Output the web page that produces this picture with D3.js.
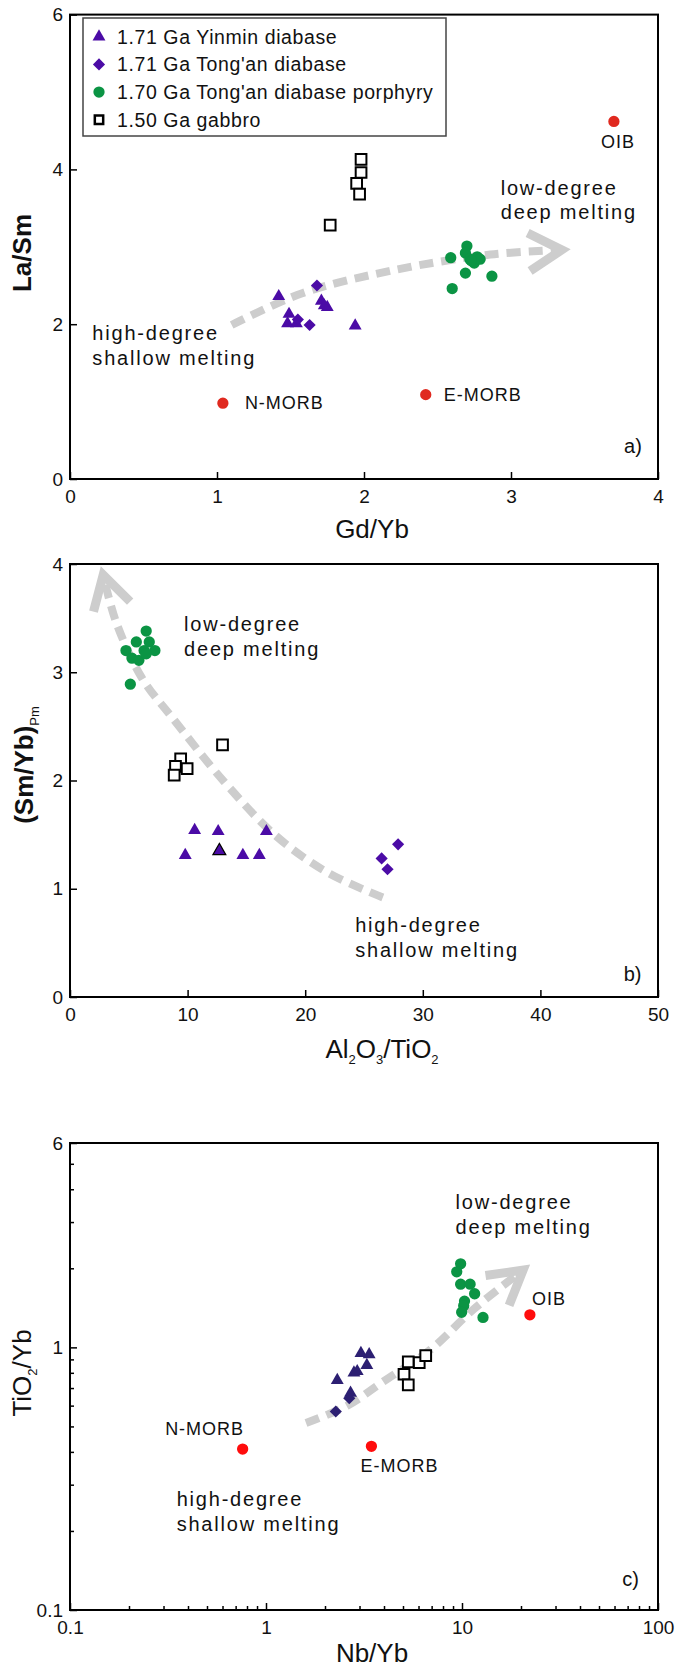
<!DOCTYPE html>
<html>
<head>
<meta charset="utf-8">
<script src="https://cdn.jsdelivr.net/npm/d3@7"></script>
<style>
body { margin: 0; background: #fff; }
</style>
</head>
<body>
<div id="chart"></div>
<script>
'use strict'

// ---- panel a : La/Sm vs Gd/Yb
var yinminA = [[1.42, 2.36], [1.49, 2.13], [1.48, 2.01], [1.54, 2.01], [1.71, 2.30], [1.75, 2.22], [1.73, 2.24], [1.94, 1.98]];
var tonganA = [[1.68, 2.50], [1.63, 1.99], [1.55, 2.06]];
var porphyryA = [[2.59, 2.86], [2.70, 3.01], [2.69, 2.92], [2.72, 2.84], [2.75, 2.79], [2.77, 2.87], [2.79, 2.84], [2.69, 2.66], [2.87, 2.62], [2.60, 2.46], [2.73, 2.82]];
var gabbroA = [[1.98, 4.13], [1.98, 3.96], [1.95, 3.82], [1.97, 3.68], [1.77, 3.28]];
var mantleA = [[1.04, 0.98], [2.42, 1.09], [3.70, 4.62]];
var trendA = [[1.10, 1.99], [1.58, 2.40], [2.18, 2.69], [2.86, 2.90], [3.345, 2.96]];

// ---- panel b : (Sm/Yb)Pm vs Al2O3/TiO2
var yinminB = [[10.6, 1.54], [12.6, 1.53], [16.7, 1.53], [9.8, 1.31], [14.7, 1.31], [16.1, 1.31]];
var yinminBEdge = [[12.7, 1.35]];
var tonganB = [[27.9, 1.41], [26.5, 1.28], [27.0, 1.18]];
var porphyryB = [[4.76, 3.20], [5.64, 3.28], [6.48, 3.38], [6.74, 3.28], [7.22, 3.20], [5.27, 3.13], [5.86, 3.11], [6.30, 3.20], [6.48, 3.17], [5.13, 2.89]];
var gabbroB = [[12.97, 2.33], [9.41, 2.20], [8.97, 2.13], [9.96, 2.11], [8.86, 2.05]];
var trendB = [[26.6, 0.92], [21.9, 1.15], [17.5, 1.49], [13.1, 1.99], [8.7, 2.58], [6.1, 2.95], [3.9, 3.47], [2.82, 3.90]];

// ---- panel c : TiO2/Yb vs Nb/Yb (log-log)
var yinminC = [[3.05, 0.95], [3.36, 0.94], [3.27, 0.855], [2.81, 0.80], [2.92, 0.81], [2.31, 0.75], [2.70, 0.67]];
var tonganC = [[2.27, 0.57], [2.66, 0.64]];
var porphyryC = [[9.84, 2.08], [9.4, 1.94], [9.84, 1.74], [11.0, 1.74], [11.6, 1.60], [10.3, 1.50], [10.2, 1.44], [9.96, 1.36], [12.8, 1.30]];
var gabbroC = [[5.32, 0.88], [6.05, 0.875], [6.53, 0.93], [5.06, 0.79], [5.32, 0.72]];
var mantleC = [[0.76, 0.41], [3.45, 0.42], [22.2, 1.33]];
var trendC = [[1.6, 0.515], [2.6, 0.60], [3.96, 0.74], [6.9, 0.98], [11.5, 1.40], [20.5, 1.97]];

var mantleNames = ['N-MORB', 'E-MORB', 'OIB'];
var legendNames = ['1.71 Ga Yinmin diabase', "1.71 Ga Tong'an diabase", "1.70 Ga Tong'an diabase porphyry", '1.50 Ga gabbro'];

var ticksA_x = [0, 1, 2, 3, 4], ticksA_y = [0, 2, 4, 6];
var ticksB_x = [0, 10, 20, 30, 40, 50], ticksB_y = [0, 1, 2, 3, 4];
var ticksC_x = [0.1, 1, 10, 100], ticksC_y = [0.1, 1, 6];
var minorC_x = [0.2, 0.3, 0.4, 0.5, 0.6, 0.7, 0.8, 0.9, 2, 3, 4, 5, 6, 7, 8, 9, 20, 30, 40, 50, 60, 70, 80, 90];
var minorC_y = [0.2, 0.3, 0.4, 0.5, 0.6, 0.7, 0.8, 0.9, 2, 3, 4, 5];

var FONT = "'Liberation Sans', Arial, sans-serif";
var PURPLE = '#4b0ba6', NAVY = '#2c1f72', GREEN = '#0b9444', GREY = '#cdcdcd';

var svg = d3.select('#chart').append('svg').attr('width', 675).attr('height', 1671);
svg.append('rect').attr('width', 675).attr('height', 1671).attr('fill', '#fff');

var xA = d3.scaleLinear().domain([0, 4]).range([70, 658]);
var yA = d3.scaleLinear().domain([0, 6]).range([479, 14.6]);
var xB = d3.scaleLinear().domain([0, 50]).range([70, 658]);
var yB = d3.scaleLinear().domain([0, 4]).range([997, 564]);
var xC = d3.scaleLog().domain([0.1, 100]).range([70, 658]);
var yC = d3.scaleLog().domain([0.1, 6]).range([1610, 1143]);

function clean(g) {
    g.select('.domain').remove();
    g.selectAll('line').attr('stroke', '#000').attr('stroke-width', 1.5);
    g.selectAll('text').attr('font-family', FONT).attr('font-size', 19).attr('fill', '#111');
}

function axes(x, y, xt, yt, xm, ym) {
    var fmt = function(d) { return String(d); };
    var bottom = y.range()[0], top = y.range()[1], left = x.range()[0], right = x.range()[1];
    if (xm) {
        svg.append('g').attr('transform', 'translate(0,' + bottom + ')')
            .call(d3.axisBottom(x).tickValues(xm).tickSize(-4).tickFormat(''))
            .call(clean);
    }
    if (ym) {
        svg.append('g').attr('transform', 'translate(' + left + ',0)')
            .call(d3.axisLeft(y).tickValues(ym).tickSize(-4).tickFormat(''))
            .call(clean);
    }
    svg.append('g').attr('transform', 'translate(0,' + bottom + ')')
        .call(d3.axisBottom(x).tickValues(xt).tickSize(-7).tickPadding(11).tickFormat(fmt))
        .call(clean);
    svg.append('g').attr('transform', 'translate(' + left + ',0)')
        .call(d3.axisLeft(y).tickValues(yt).tickSize(-7).tickPadding(7).tickFormat(fmt))
        .call(clean);
    svg.append('rect')
        .attr('x', left).attr('y', top)
        .attr('width', right - left).attr('height', bottom - top)
        .attr('fill', 'none').attr('stroke', '#000').attr('stroke-width', 2);
}

// dashed grey trend with an open chevron head
function trend(data, x, y) {
    var line = d3.line().x(function(d) { return x(d[0]); }).y(function(d) { return y(d[1]); })
        .curve(d3.curveCatmullRom.alpha(0.5));
    svg.append('path').attr('d', line(data))
        .attr('fill', 'none').attr('stroke', GREY).attr('stroke-width', 8)
        .attr('stroke-dasharray', '14,8');
    var n = data.length;
    var tx = x(data[n - 1][0]), ty = y(data[n - 1][1]);
    var px = x(data[n - 2][0]), py = y(data[n - 2][1]);
    var ang = Math.atan2(ty - py, tx - px);
    var len = 38, half = Math.PI / 6;
    var p1 = [tx - len * Math.cos(ang - half), ty - len * Math.sin(ang - half)];
    var p2 = [tx - len * Math.cos(ang + half), ty - len * Math.sin(ang + half)];
    svg.append('path')
        .attr('d', 'M' + p1[0] + ',' + p1[1] + 'L' + tx + ',' + ty + 'L' + p2[0] + ',' + p2[1])
        .attr('fill', 'none').attr('stroke', GREY).attr('stroke-width', 9)
        .attr('stroke-linejoin', 'miter');
}

var shapes = {
    tri: { type: d3.symbolTriangle, size: 72, rot: 0 },
    dia: { type: d3.symbolSquare, size: 74, rot: 45 },
    cir: { type: d3.symbolCircle, size: 100, rot: 0 },
    sq: { type: d3.symbolSquare, size: 115, rot: 0 }
};

function points(data, x, y, kind, fill, stroke, sw) {
    var s = shapes[kind];
    var sym = d3.symbol().type(s.type).size(s.size);
    svg.append('g').selectAll('path').data(data).enter().append('path')
        .attr('d', sym)
        .attr('transform', function(d) {
            return 'translate(' + x(d[0]) + ',' + y(d[1]) + ') rotate(' + s.rot + ')';
        })
        .attr('fill', fill)
        .attr('stroke', stroke || 'none')
        .attr('stroke-width', sw || 0);
}

function note(x, y, lines, opts) {
    opts = opts || {};
    var t = svg.append('text')
        .attr('x', x).attr('y', y)
        .attr('font-family', FONT)
        .attr('font-size', opts.size || 20)
        .attr('letter-spacing', opts.ls == null ? 1.8 : opts.ls)
        .attr('text-anchor', opts.anchor || 'start')
        .attr('fill', '#111');
    lines.forEach(function(s, i) {
        t.append('tspan').attr('x', x).attr('dy', i ? 24.5 : 0).text(s);
    });
    return t;
}

// ---------- panel a
axes(xA, yA, ticksA_x, ticksA_y);
trend(trendA, xA, yA);
points(gabbroA, xA, yA, 'sq', '#fff', '#000', 2);
points(porphyryA, xA, yA, 'cir', GREEN);
points(yinminA, xA, yA, 'tri', PURPLE);
points(tonganA, xA, yA, 'dia', PURPLE);
points(mantleA, xA, yA, 'cir', '#e0291f');
note(xA(mantleA[0][0]) + 22, yA(mantleA[0][1]) + 6, [mantleNames[0]], { size: 18, ls: 1 });
note(xA(mantleA[1][0]) + 18, yA(mantleA[1][1]) + 6, [mantleNames[1]], { size: 18, ls: 1 });
note(xA(mantleA[2][0]) + 4, yA(mantleA[2][1]) + 27, [mantleNames[2]], { size: 18, ls: 1, anchor: 'middle' });
note(xA(2.93), yA(3.67), ['low-degree', 'deep melting']);
note(xA(0.152), yA(1.79), ['high-degree', 'shallow melting']);
note(xA(3.89), yA(0.34), ['a)'], { ls: 0, anchor: 'end' });

// legend
var leg = svg.append('g');
leg.append('rect').attr('x', 83).attr('y', 18).attr('width', 363).attr('height', 118)
    .attr('fill', '#fff').attr('stroke', '#444').attr('stroke-width', 1.5);
var legKinds = [['tri', PURPLE, null, 0], ['dia', PURPLE, null, 0], ['cir', GREEN, null, 0], ['sq', '#fff', '#000', 2.5]];
legendNames.forEach(function(name, i) {
    var cy = 36.7 + i * 27.7;
    var k = legKinds[i];
    var s = shapes[k[0]];
    leg.append('path')
        .attr('d', d3.symbol().type(s.type).size(k[0] === 'sq' ? 70 : s.size)())
        .attr('transform', 'translate(99,' + cy + ') rotate(' + s.rot + ')')
        .attr('fill', k[1]).attr('stroke', k[2] || 'none').attr('stroke-width', k[3]);
    leg.append('text').attr('x', 117).attr('y', cy + 7)
        .attr('font-family', FONT).attr('font-size', 19.5).attr('letter-spacing', 0.6)
        .attr('fill', '#111').text(name);
});

// ---------- panel b
axes(xB, yB, ticksB_x, ticksB_y);
trend(trendB, xB, yB);
points(gabbroB, xB, yB, 'sq', '#fff', '#000', 2);
points(porphyryB, xB, yB, 'cir', GREEN);
points(yinminB, xB, yB, 'tri', PURPLE);
points(yinminBEdge, xB, yB, 'tri', PURPLE, '#000', 1.2);
points(tonganB, xB, yB, 'dia', PURPLE);
note(xB(9.7), yB(3.38), ['low-degree', 'deep melting']);
note(xB(24.25), yB(0.597), ['high-degree', 'shallow melting']);
note(xB(48.6), yB(0.148), ['b)'], { ls: 0, anchor: 'end' });

// ---------- panel c
axes(xC, yC, ticksC_x, ticksC_y, minorC_x, minorC_y);
trend(trendC, xC, yC);
points(gabbroC, xC, yC, 'sq', '#fff', '#000', 2);
points(porphyryC, xC, yC, 'cir', GREEN);
points(yinminC, xC, yC, 'tri', NAVY);
points(tonganC, xC, yC, 'dia', NAVY);
points(mantleC, xC, yC, 'cir', '#ff0d0d');
note(xC(mantleC[0][0]) - 38, yC(mantleC[0][1]) - 14, [mantleNames[0]], { size: 18, ls: 1, anchor: 'middle' });
note(xC(mantleC[1][0]) + 28, yC(mantleC[1][1]) + 26, [mantleNames[1]], { size: 18, ls: 1, anchor: 'middle' });
note(xC(mantleC[2][0]) + 2, yC(mantleC[2][1]) - 10, [mantleNames[2]], { size: 18, ls: 1 });
note(xC(9.27), yC(3.35), ['low-degree', 'deep melting']);
note(xC(0.35), yC(0.248), ['high-degree', 'shallow melting']);
note(xC(80), yC(0.123), ['c)'], { ls: 0, anchor: 'end' });

// ---------- axis titles
function title(x, y, parts, rotate, weight) {
    var t = svg.append('text')
        .attr('transform', 'translate(' + x + ',' + y + ')' + (rotate ? ' rotate(-90)' : ''))
        .attr('text-anchor', 'middle')
        .attr('font-family', FONT)
        .attr('font-size', 26)
        .attr('font-weight', weight || 'normal')
        .attr('fill', '#111');
    var shift = 0;
    parts.forEach(function(p) {
        var sub = p.charAt(0) === '_';
        var dy = sub ? 6 - shift : -shift;
        shift = sub ? 6 : 0;
        var ts = t.append('tspan').attr('dy', dy).text(sub ? p.slice(1) : p);
        if (sub) ts.attr('font-size', 13).attr('font-weight', 'normal');
    });
}

title(372, 538, ['Gd/Yb']);
title(382, 1058, ['Al', '_2', 'O', '_3', '/TiO', '_2']);
title(372, 1662, ['Nb/Yb']);
title(31, 253, ['La/Sm'], true, 'bold');
title(33, 765, ['(Sm/Yb)', '_Pm'], true, 'bold');
title(31, 1373, ['TiO', '_2', '/Yb'], true);
</script>
</body>
</html>
